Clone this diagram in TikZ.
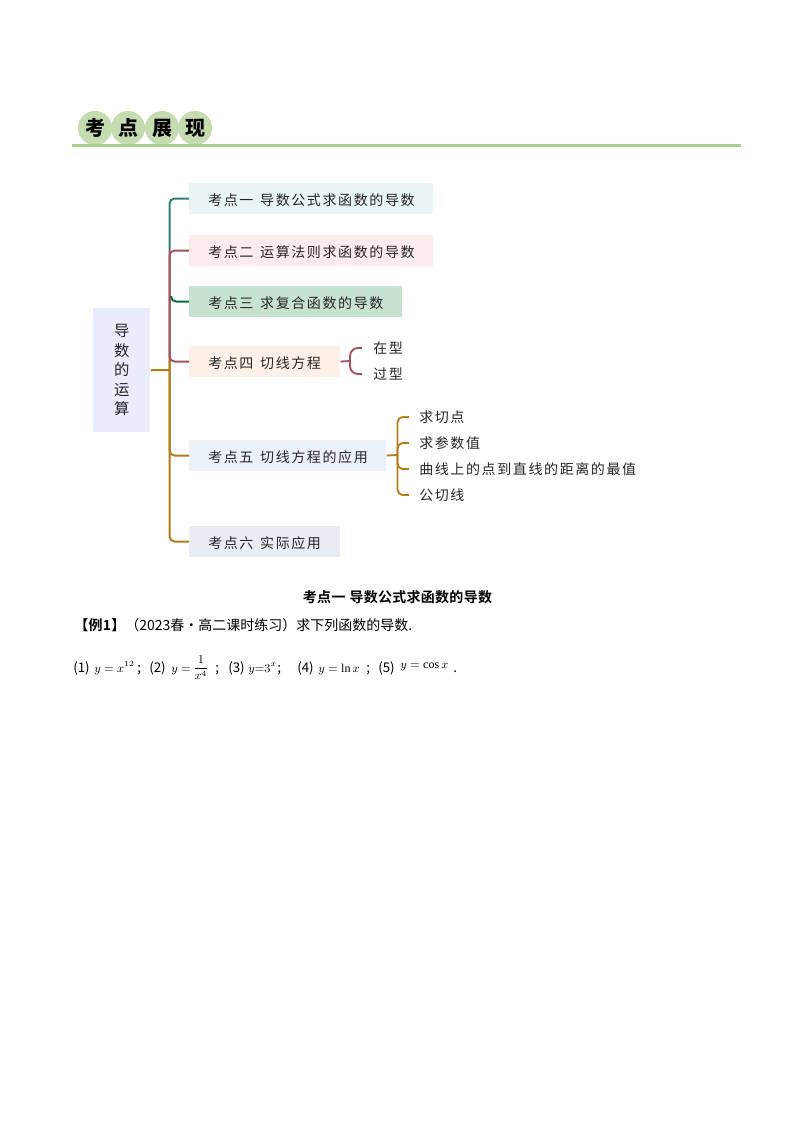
\documentclass[tikz,border=0pt]{standalone}
\usepackage{fontspec}
\setmainfont{Liberation Serif}
\newfontfamily\cjk[LetterSpace=11.5]{Noto Sans CJK SC}
\newfontfamily\cjkplain{Noto Sans CJK SC}
\newfontfamily\cjkbold[LetterSpace=2]{Noto Sans CJK SC Bold}
\newfontfamily\cjkhead{Noto Sans CJK SC Black}
\definecolor{teal1}{HTML}{2F7F72}
\definecolor{rose1}{HTML}{A0525F}
\definecolor{green1}{HTML}{0F6A3F}
\definecolor{gold1}{HTML}{B07D1E}
\definecolor{badgecol}{HTML}{C5DCB0}
\definecolor{rulecol}{HTML}{A8CF8E}
\definecolor{rootfill}{HTML}{E8ECFC}
\definecolor{fa}{HTML}{E8F4F5}
\definecolor{fb}{HTML}{FCEBEC}
\definecolor{fc}{HTML}{C7E2D0}
\definecolor{fd}{HTML}{FDF1E7}
\definecolor{fe}{HTML}{EAF1F7}
\definecolor{ff}{HTML}{EAECF4}
\tikzset{
  topic/.style={anchor=north west,inner xsep=14.25pt,inner ysep=0pt,minimum height=22.9pt,text height=10pt,text depth=0pt,align=left,font=\cjk\fontsize{10.5}{12}\selectfont,text=black!85},
  leaf/.style={anchor=west,inner sep=0pt,font=\cjk\fontsize{10.5}{12}\selectfont,text=black!85},
  link/.style={line width=1.5pt,rounded corners=3.75pt},
  sublink/.style={line width=1.4pt,rounded corners=4.5pt},
  badge/.style={circle,fill=badgecol,minimum size=25.5pt,inner sep=0pt,font=\cjkhead\fontsize{15}{15}\selectfont},
  small/.style={anchor=base west,inner sep=0pt,font=\cjkplain\fontsize{10.5}{12}\selectfont},
  lab/.style={anchor=base west,inner sep=0pt,font=\cjkplain\fontsize{10}{12}\selectfont},
  eqn/.style={anchor=base west,inner sep=0pt,font=\fontsize{9}{11}\selectfont},
}
\begin{document}
\begin{tikzpicture}[x=0.75pt,y=-0.75pt]
\useasboundingbox[fill=white] (0,0) rectangle (794,1123);
% header
\coordinate (rl) at (72,145.5);
\coordinate (rr) at (741,145.5);
\node[badge] (h1) at (95,128) {考};
\node[badge] (h2) at (128,128) {点};
\node[badge] (h3) at (162,128) {展};
\node[badge] (h4) at (195,128) {现};
\draw[line width=2.4pt,rulecol] (rl) -- (rr);
% root
\node[anchor=north west,fill=rootfill,minimum width=42.75pt,minimum height=93pt,inner sep=0pt,align=center,font=\cjkplain\fontsize{11.5}{14.6}\selectfont,text=black!85] (root) at (93,308) {导\\数\\的\\运\\算};
% topics
\node[topic,fill=fa,text width=154.5pt] (b1) at (189,183) {\mbox{考点一\hspace{5pt}导数公式求函数的导数}};
\node[topic,fill=fb,text width=154.5pt] (b2) at (189,235) {\mbox{考点二\hspace{5pt}运算法则求函数的导数}};
\node[topic,fill=fc,text width=131.25pt] (b3) at (189,286) {\mbox{考点三\hspace{5pt}求复合函数的导数}};
\node[topic,fill=fd,text width=84.75pt] (b4) at (189,346) {\mbox{考点四\hspace{5pt}切线方程}};
\node[topic,fill=fe,text width=119.25pt] (b5) at (189,440) {\mbox{考点五\hspace{5pt}切线方程的应用}};
\node[topic,fill=ff,text width=84.75pt] (b6) at (189,526) {\mbox{考点六\hspace{5pt}实际应用}};
% leaves
\node[leaf] (z) at (373,348) {在型};
\node[leaf] (g) at (373,374) {过型};
\node[leaf] (p1) at (419,417) {求切点};
\node[leaf] (p2) at (419,443) {求参数值};
\node[leaf] (p3) at (419,469) {曲线上的点到直线的距离的最值};
\node[leaf] (p4) at (419,495) {公切线};
% trunk coordinates
\coordinate (tr0) at (169.5,370);
\coordinate (tr2) at (169.5,250);
\coordinate (tr3) at (171,296);
\coordinate (tr4) at (169.5,361);
\coordinate (j4) at (350,361);
\coordinate (j5) at (397.5,455);
% connectors
\draw[link,teal1] (b1.west) -| (tr2);
\draw[link,rose1] (b2.west) -| (tr4);
\draw[link,rose1] (b4.west) -| (tr2);
\draw[link,green1] (b3.west) -| (tr3);
\draw[link,gold1] (b5.west) -| (tr4);
\draw[link,gold1] (b6.west) -| (tr4);
\draw[link,gold1] (root.east) -- (tr0);
\draw[sublink,rose1] (b4.east) -- (j4);
\draw[sublink,rose1,rounded corners=6pt] (j4) |- ([xshift=-8.25pt]z.west);
\draw[sublink,rose1,rounded corners=6pt] (j4) |- ([xshift=-8.25pt]g.west);
\draw[sublink,gold1] (b5.east) -- (j5);
\draw[sublink,gold1] (j5) |- ([xshift=-7.5pt]p1.west);
\draw[sublink,gold1] (j5) |- ([xshift=-7.5pt]p2.west);
\draw[sublink,gold1] (j5) |- ([xshift=-7.5pt]p3.west);
\draw[sublink,gold1] (j5) |- ([xshift=-7.5pt]p4.west);
% lower text
\node[inner sep=0pt,font=\cjkbold\fontsize{10.5}{12}\selectfont] (title) at (397.5,597) {考点一\hspace{3pt}导数公式求函数的导数};
\node[small] (ex) at (74,630) {{\cjkbold【例1】}（2023春·高二课时练习）求下列函数的导数.};
\node[lab] (f1) at (73,672) {(1)};
\node[eqn] (e1) at (94,672) {$y=x^{12}$};
\node[lab] (s1) at (137,672) {;};
\node[lab] (f2) at (149,672) {(2)};
\node[eqn] (e2) at (171,672) {$y=$};
\node[eqn,anchor=center] (fr) at (201,668) {$\displaystyle\frac{1}{x^{4}}$};
\node[lab] (s2) at (215,672) {;};
\node[lab] (f3) at (228,672) {(3)};
\node[eqn] (e3) at (248,672) {$y{=}3^{x}$};
\node[lab] (s3) at (277,672) {;};
\node[lab] (f4) at (297,672) {(4)};
\node[eqn] (e4) at (318,672) {$y=\ln x$};
\node[lab] (s4) at (366,672) {;};
\node[lab] (f5) at (378,672) {(5)};
\node[eqn] (e5) at (400,668) {$y=\cos x$};
\node[lab] (dot) at (453,672) {.};
\end{tikzpicture}
\end{document}
